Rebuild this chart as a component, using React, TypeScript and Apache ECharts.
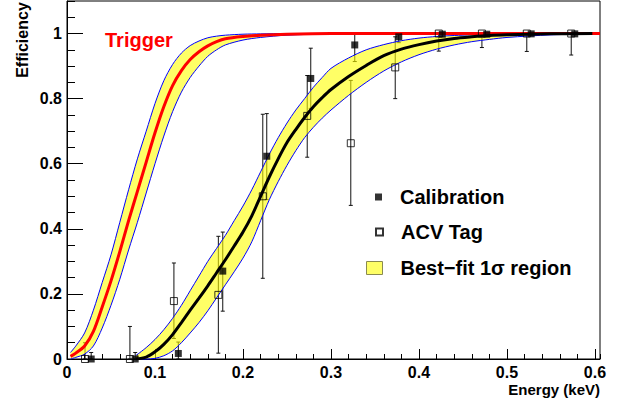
import React, { useEffect, useRef } from "react";
import * as echarts from "echarts";

// Calibration points (filled squares)
const calX = [0.0275, 0.0775, 0.1265, 0.177, 0.227, 0.277, 0.327, 0.377, 0.4265, 0.477, 0.5275, 0.577];
const calY = [0, 0, 0.017, 0.27, 0.623, 0.862, 0.965, 0.99, 0.998, 0.998, 0.999, 0.999];
const calLo = [0, 0, 0, 0.147, 0.49, 0.77, 0.914, 0.972, 0.998, 0.998, 0.999, 0.999];
const calHi = [0.02, 0.02, 0.052, 0.39, 0.754, 0.955, 1.0, 1.0, 0.998, 0.998, 0.999, 0.999];

// ACV Tag points (open squares)
const acvX = [0.0205, 0.0715, 0.1215, 0.172, 0.2225, 0.273, 0.3225, 0.373, 0.4225, 0.4715, 0.5225, 0.573];
const acvY = [0, 0, 0.178, 0.197, 0.5, 0.747, 0.663, 0.896, 1.0, 1.0, 1.0, 1.0];
const acvLo = [0, 0, 0.063, 0.018, 0.248, 0.62, 0.472, 0.8, 0.946, 0.957, 0.945, 0.934];
const acvHi = [0.05, 0.1, 0.295, 0.377, 0.752, 0.871, 0.856, 0.99, 1.0, 1.0, 1.0, 1.0];

// Best-fit efficiency curve (black) with 1 sigma band
const fitX = [0.078, 0.09, 0.1, 0.11, 0.12, 0.13, 0.14, 0.15, 0.16, 0.17, 0.18, 0.19, 0.2, 0.21, 0.22, 0.23, 0.24, 0.25, 0.26, 0.27, 0.28, 0.29, 0.3, 0.32, 0.34, 0.36, 0.38, 0.4, 0.42, 0.44, 0.46, 0.48, 0.5, 0.55, 0.597];
const fitC = [0, 0.006, 0.022, 0.045, 0.075, 0.112, 0.15, 0.187, 0.225, 0.265, 0.305, 0.347, 0.39, 0.44, 0.5, 0.56, 0.615, 0.665, 0.705, 0.742, 0.775, 0.803, 0.828, 0.868, 0.902, 0.932, 0.952, 0.966, 0.977, 0.985, 0.99, 0.994, 0.996, 0.999, 1.0];
const fitU = [0.01, 0.035, 0.06, 0.09, 0.125, 0.165, 0.21, 0.255, 0.3, 0.34, 0.38, 0.425, 0.47, 0.52, 0.575, 0.63, 0.68, 0.725, 0.765, 0.8, 0.835, 0.865, 0.893, 0.925, 0.95, 0.966, 0.978, 0.986, 0.991, 0.994, 0.996, 0.998, 0.999, 1.0, 1.0];
const fitL = [0, 0, 0.002, 0.01, 0.025, 0.05, 0.08, 0.112, 0.148, 0.188, 0.228, 0.268, 0.31, 0.36, 0.425, 0.49, 0.545, 0.595, 0.64, 0.68, 0.712, 0.74, 0.765, 0.81, 0.85, 0.885, 0.913, 0.935, 0.952, 0.965, 0.975, 0.982, 0.988, 0.996, 0.999];

// Trigger efficiency curve (red) with 1 sigma band
const trigX = [0.004, 0.01, 0.02, 0.03, 0.04, 0.05, 0.06, 0.07, 0.08, 0.09, 0.1, 0.11, 0.12, 0.13, 0.14, 0.15, 0.16, 0.17, 0.18, 0.2, 0.22, 0.25, 0.3, 0.4, 0.5, 0.6057];
const trigC = [0.008, 0.018, 0.04, 0.085, 0.16, 0.24, 0.33, 0.425, 0.515, 0.605, 0.695, 0.775, 0.84, 0.886, 0.92, 0.944, 0.962, 0.975, 0.984, 0.991, 0.995, 0.998, 1.0, 1.0, 1.0, 1.0];
const trigU = [0.02, 0.04, 0.08, 0.15, 0.235, 0.32, 0.42, 0.52, 0.615, 0.7, 0.785, 0.855, 0.905, 0.94, 0.963, 0.977, 0.987, 0.992, 0.995, 0.998, 0.999, 1.0, 1.0, 1.0, 1.0, 1.0];
const trigL = [0, 0.005, 0.015, 0.04, 0.095, 0.165, 0.245, 0.335, 0.42, 0.51, 0.6, 0.685, 0.76, 0.82, 0.865, 0.9, 0.93, 0.95, 0.965, 0.98, 0.988, 0.995, 0.999, 1.0, 1.0, 1.0];

const FONT = "'Liberation Sans', Arial, Helvetica, sans-serif";
const BAND_NAME = "Best\u2212fit 1\u03c3 region";

function bandSeries(name: string, xs: number[], up: number[], lo: number[]) {
  return {
    type: "custom",
    name,
    z: 3,
    silent: true,
    data: [[xs[0], up[0]]],
    renderItem: (_params: any, api: any) => {
      const top = xs.map((x, i) => api.coord([x, up[i]]));
      const bot = xs.map((x, i) => api.coord([x, lo[i]]));
      return {
        type: "group",
        children: [
          {
            type: "polygon",
            shape: { points: top.concat(bot.slice().reverse()), smooth: 0 },
            style: { fill: "rgba(255,255,0,0.6)", stroke: "none" },
          },
          {
            type: "polyline",
            shape: { points: top, smooth: 0.3 },
            style: { stroke: "#0000ff", lineWidth: 1, fill: "none" },
          },
          {
            type: "polyline",
            shape: { points: bot, smooth: 0.3 },
            style: { stroke: "#0000ff", lineWidth: 1, fill: "none" },
          },
        ],
      };
    },
  };
}

function errSeries(xs: number[], lo: number[], hi: number[]) {
  return {
    type: "custom",
    z: 2,
    silent: true,
    encode: { x: 0, y: [1, 2] },
    data: xs.map((x, i) => [x, lo[i], hi[i]]),
    renderItem: (_params: any, api: any) => {
      const x = api.value(0);
      const l = api.value(1);
      const h = api.value(2);
      if (h - l <= 0) return { type: "group", children: [] };
      const p1 = api.coord([x, h]);
      const p2 = api.coord([x, l]);
      const st = { stroke: "#111", lineWidth: 1 };
      return {
        type: "group",
        children: [
          { type: "line", shape: { x1: p1[0], y1: p1[1], x2: p2[0], y2: p2[1] }, style: st },
          { type: "line", shape: { x1: p1[0] - 2, y1: p1[1], x2: p1[0] + 2, y2: p1[1] }, style: st },
          { type: "line", shape: { x1: p2[0] - 2, y1: p2[1], x2: p2[0] + 2, y2: p2[1] }, style: st },
        ],
      };
    },
  };
}

export default function App() {
  const ref = useRef<HTMLDivElement>(null);
  useEffect(() => {
    if (!ref.current) return;
    const chart = echarts.init(ref.current, undefined, { renderer: "svg" });
    const XMAX = 0.6057;
    const YMAX = 1.1;
    const labelStyle = { fontFamily: FONT, fontWeight: "bold", fontSize: 16, lineHeight: 15, color: "#000" };
    const legendText = { fontFamily: FONT, fontWeight: "bold", fontSize: 20, color: "#000", lineHeight: 20, padding: [0, 0, 0, 13] };
    chart.setOption({
      animation: false,
      backgroundColor: "#fff",
      grid: { left: 67, right: 27, top: 1, bottom: 44, show: true, borderColor: "#000", borderWidth: 1, backgroundColor: "transparent" },
      xAxis: [
        {
          type: "value", min: 0, max: XMAX, interval: 0.1, position: "bottom",
          axisLine: { show: true, lineStyle: { color: "#000", width: 1 } },
          axisTick: { show: true, inside: true, length: 10, lineStyle: { color: "#000" } },
          axisLabel: { ...labelStyle, margin: 6, showMaxLabel: false },
          splitLine: { show: false },
        },
        {
          type: "value", min: 0, max: XMAX, interval: 0.02, position: "bottom",
          axisLine: { show: false },
          axisTick: { show: true, inside: true, length: 5, lineStyle: { color: "#000" } },
          axisLabel: { show: false },
          splitLine: { show: false },
        },
      ],
      yAxis: [
        {
          type: "value", min: 0, max: YMAX, interval: 0.2, position: "left",
          axisLine: { show: true, lineStyle: { color: "#000", width: 1 } },
          axisTick: { show: true, inside: true, length: 16, lineStyle: { color: "#000" } },
          axisLabel: { ...labelStyle, margin: 5, showMaxLabel: false },
          splitLine: { show: false },
        },
        {
          type: "value", min: 0, max: YMAX, interval: 0.05, position: "left",
          axisLine: { show: false },
          axisTick: { show: true, inside: true, length: 8, lineStyle: { color: "#000" } },
          axisLabel: { show: false },
          splitLine: { show: false },
        },
      ],
      legend: [
        {
          left: 375, top: 187, orient: "vertical", padding: 0, selectedMode: false,
          itemWidth: 7, itemHeight: 7, icon: "rect",
          data: ["Calibration"], textStyle: legendText,
        },
        {
          left: 375, top: 222, orient: "vertical", padding: 0, selectedMode: false,
          itemWidth: 7, itemHeight: 7, icon: "rect",
          data: ["ACV Tag"], textStyle: legendText,
        },
        {
          left: 366, top: 258, orient: "vertical", padding: 0, selectedMode: false,
          itemWidth: 16, itemHeight: 13,
          data: [{ name: BAND_NAME, icon: "rect", itemStyle: { color: "#ffff66", borderColor: "#8a8a50", borderWidth: 1 } }],
          textStyle: legendText,
        },
      ],
      graphic: [
        {
          type: "text", x: 105, y: 40,
          style: { text: "Trigger", fill: "#ff0000", font: `bold 20px ${FONT}`, align: "left", verticalAlign: "middle" },
        },
        {
          type: "text", x: 22, y: 40, rotation: Math.PI / 2,
          style: { text: "Efficiency", fill: "#000", font: `bold 16px ${FONT}`, align: "center", verticalAlign: "middle" },
        },
        {
          type: "text", x: 600, y: 389,
          style: { text: "Energy (keV)", fill: "#000", font: `bold 15px ${FONT}`, lineHeight: 14, align: "right", verticalAlign: "middle" },
        },
      ],
      series: [
        errSeries(calX, calLo, calHi),
        errSeries(acvX, acvLo, acvHi),
        bandSeries(BAND_NAME, trigX, trigU, trigL),
        bandSeries(BAND_NAME, fitX, fitU, fitL),
        {
          type: "line", z: 4, silent: true, symbol: "none", smooth: 0.3,
          data: trigX.map((x, i) => [x, trigC[i]]),
          lineStyle: { color: "#ff0000", width: 3 },
        },
        {
          type: "line", z: 5, silent: true, symbol: "none", smooth: 0.3,
          data: fitX.map((x, i) => [x, fitC[i]]),
          lineStyle: { color: "#000", width: 3 },
        },
        {
          type: "scatter", name: "ACV Tag", z: 6, silent: true, clip: false,
          symbol: "rect", symbolSize: 7,
          itemStyle: { color: "rgba(0,0,0,0)", borderColor: "#000", borderWidth: 1 },
          data: acvX.map((x, i) => [x, acvY[i]]),
        },
        {
          type: "scatter", name: "Calibration", z: 7, silent: true, clip: false,
          symbol: "rect", symbolSize: 7,
          itemStyle: { color: "#000" },
          data: calX.map((x, i) => [x, calY[i]]),
        },
      ],
    });
    return () => chart.dispose();
  }, []);
  return <div ref={ref} style={{ position: "fixed", left: 0, top: 0, width: 627, height: 403 }} />;
}
